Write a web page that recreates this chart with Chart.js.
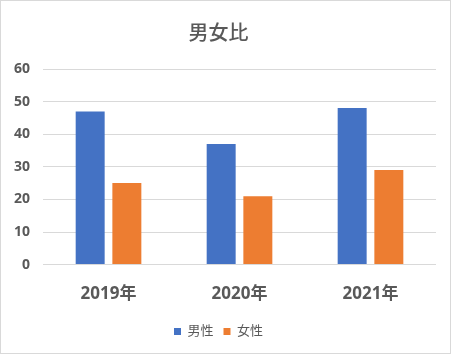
<!DOCTYPE html>
<html>
<head>
<meta charset="utf-8">
<script src="https://cdn.jsdelivr.net/npm/chart.js@4"></script>
<style>
  html, body { margin: 0; padding: 0; background: #fff; }
  #wrap { width: 449px; height: 352px; border: 1px solid #d9d9d9; position: relative; }
</style>
</head>
<body>
<div id="wrap"><canvas id="chart" width="449" height="352"></canvas></div>
<script>
// 男女比 chart data
const years = ['2019年', '2020年', '2021年'];
const male = [47, 37, 48];
const female = [25, 21, 29];

const fontFamily = "'Noto Sans', 'Noto Sans CJK JP', sans-serif";
const textColor = '#595959';

new Chart(document.getElementById('chart').getContext('2d'), {
  type: 'bar',
  data: {
    labels: years,
    datasets: [
      { label: '男性', data: male, backgroundColor: '#4472c4' },
      { label: '女性', data: female, backgroundColor: '#ed7d31' }
    ]
  },
  options: {
    responsive: false,
    animation: false,
    layout: { padding: { left: 0, right: 14, top: 6, bottom: 5 } },
    datasets: {
      bar: { categoryPercentage: 0.56, barPercentage: 0.79 }
    },
    plugins: {
      title: {
        display: true,
        text: '男女比',
        color: textColor,
        font: { family: fontFamily, size: 20, weight: '500' },
        padding: { top: 15, bottom: 23 }
      },
      legend: {
        position: 'bottom',
        labels: {
          boxWidth: 7,
          boxHeight: 7,
          color: textColor,
          font: { family: fontFamily, size: 13 },
          padding: 10
        }
      },
      tooltip: { enabled: false }
    },
    scales: {
      x: {
        grid: { display: false },
        border: { display: false },
        ticks: {
          color: textColor,
          font: { family: fontFamily, size: 17, weight: 'bold' },
          padding: 11
        }
      },
      y: {
        min: 0,
        max: 60,
        ticks: {
          stepSize: 10,
          color: textColor,
          font: { family: fontFamily, size: 14, weight: 'bold' },
          padding: 13
        },
        grid: { color: '#d9d9d9', drawTicks: false },
        border: { display: false }
      }
    }
  }
});
</script>
</body>
</html>
